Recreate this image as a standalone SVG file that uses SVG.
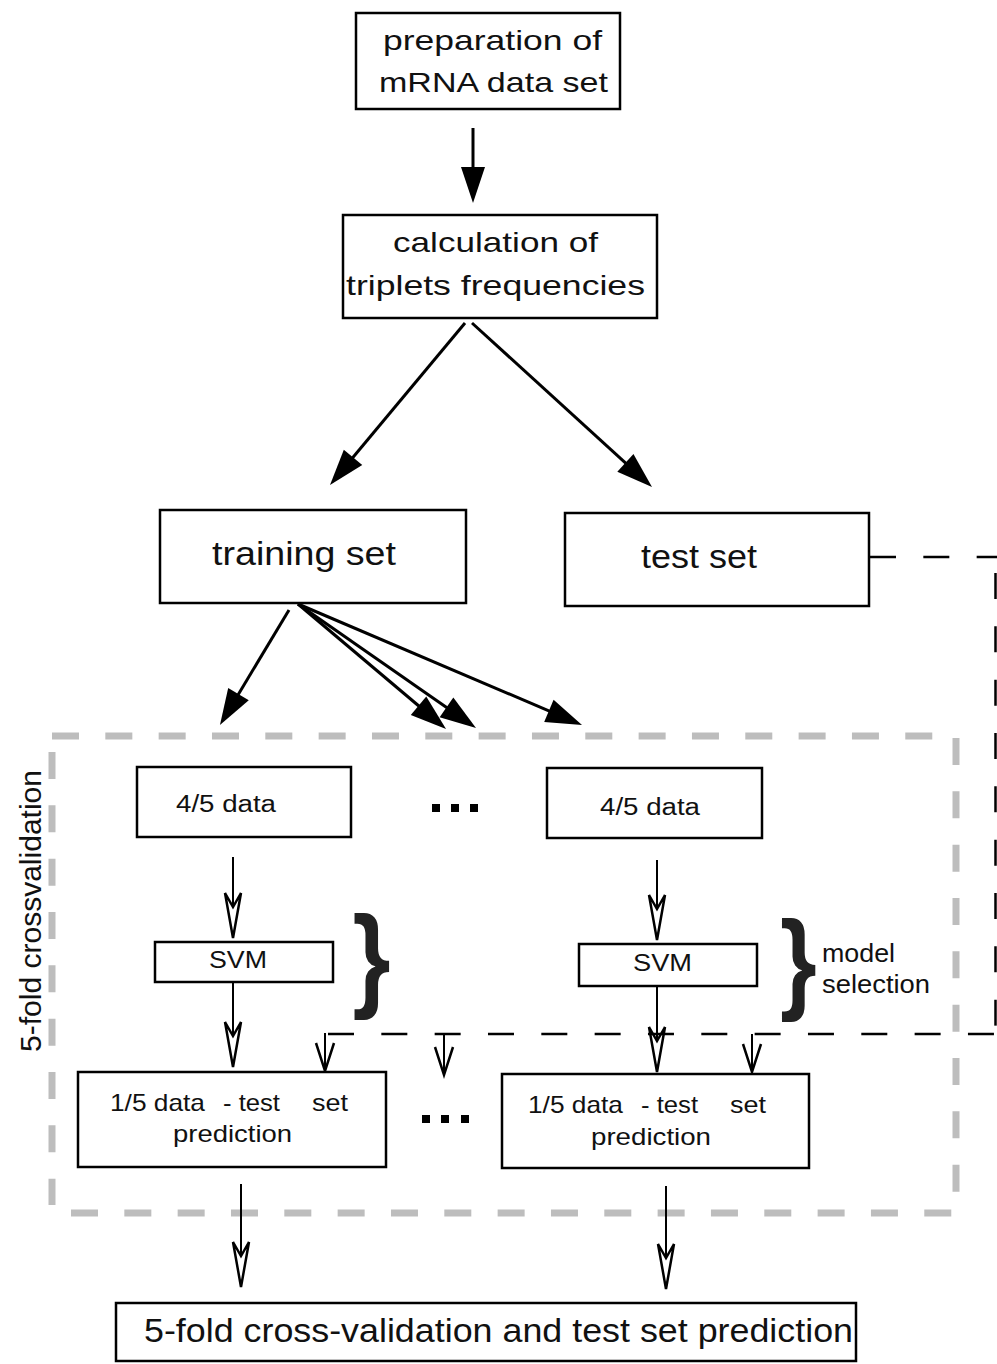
<svg xmlns="http://www.w3.org/2000/svg" width="997" height="1364" viewBox="0 0 997 1364">
<style>
.box{fill:#fff;stroke:#000;stroke-width:2.5}
.t{font-family:"Liberation Sans",Arial,sans-serif;fill:#111}
.ln{stroke:#000;stroke-width:3;fill:none}
.thin{stroke:#000;stroke-width:2;fill:none}
.gray{stroke:#bdbdbd;stroke-width:7;fill:none;stroke-dasharray:27 26.33}
.bd{stroke:#000;stroke-width:2.5;fill:none;stroke-dasharray:26 27.33}
.brace{font-family:"Liberation Sans",Arial,sans-serif;font-weight:bold;fill:#222}
</style>
<defs>
<marker id="fa" markerUnits="userSpaceOnUse" markerWidth="60" markerHeight="40" viewBox="-40 -20 60 40" refX="-10" refY="0" orient="auto" overflow="visible">
<path d="M0,0 L-36,-12 L-36,12 Z" fill="#000"/>
</marker>
<marker id="oa" markerUnits="userSpaceOnUse" markerWidth="60" markerHeight="30" viewBox="-50 -15 60 30" refX="-31" refY="0" orient="auto" overflow="visible">
<path d="M0,0 L-45,-8 L-31,0 L-45,8 Z" fill="#fff" stroke="#000" stroke-width="2.5" stroke-linejoin="miter"/>
</marker>
<marker id="va" markerUnits="userSpaceOnUse" markerWidth="40" markerHeight="30" viewBox="-30 -15 40 30" refX="0" refY="0" orient="auto" overflow="visible">
<path d="M-28,-9 L0,0 L-28,9" fill="none" stroke="#000" stroke-width="2.5"/>
</marker>
</defs>

<g id="crossval-frame">
<line class="gray" x1="52" y1="736" x2="956" y2="736"/>
<line class="gray" x1="52" y1="752" x2="52" y2="1205"/>
<line class="gray" x1="956" y1="738" x2="956" y2="1200"/>
<line class="gray" x1="71" y1="1213" x2="956" y2="1213"/>
<text class="t" font-size="30" text-anchor="middle" transform="translate(41,911) rotate(-90)" textLength="282" lengthAdjust="spacingAndGlyphs">5-fold crossvalidation</text>
</g>

<g id="connectors">
<line class="ln" x1="473" y1="128" x2="473" y2="193" marker-end="url(#fa)"/>
<line class="ln" x1="465" y1="323" x2="336.4" y2="477.3" marker-end="url(#fa)"/>
<line class="ln" x1="472" y1="323" x2="644.6" y2="480.3" marker-end="url(#fa)"/>
<line class="ln" x1="289" y1="610" x2="225.1" y2="716.4" marker-end="url(#fa)"/>
<line class="ln" x1="298" y1="604" x2="438.4" y2="722.5" marker-end="url(#fa)"/>
<line class="ln" x1="298" y1="604" x2="467.8" y2="722.3" marker-end="url(#fa)"/>
<line class="ln" x1="298" y1="604" x2="572.8" y2="721.1" marker-end="url(#fa)"/>

<line class="thin" x1="233" y1="857" x2="233" y2="907" marker-end="url(#oa)"/>
<line class="thin" x1="657" y1="860" x2="657" y2="909" marker-end="url(#oa)"/>
<line class="thin" x1="233" y1="982" x2="233" y2="1036" marker-end="url(#oa)"/>
<line class="thin" x1="657" y1="986" x2="657" y2="1041" marker-end="url(#oa)"/>
<line class="thin" x1="241" y1="1184" x2="241" y2="1256" marker-end="url(#oa)"/>
<line class="thin" x1="666" y1="1186" x2="666" y2="1258" marker-end="url(#oa)"/>

<line class="bd" x1="870" y1="557" x2="997" y2="557"/>
<line class="bd" x1="995.5" y1="573" x2="995.5" y2="1034" stroke-width="3"/>
<line class="bd" x1="328" y1="1034" x2="997" y2="1034"/>
<line class="thin" x1="325" y1="1033" x2="325" y2="1071" marker-end="url(#va)"/>
<line class="thin" x1="444" y1="1034" x2="444" y2="1075" marker-end="url(#va)"/>
<line class="thin" x1="752" y1="1034" x2="752" y2="1072" marker-end="url(#va)"/>
</g>

<g id="n-prep">
<rect class="box" x="356" y="13" width="264" height="96"/>
<text class="t" font-size="28" x="383" y="50" textLength="219" lengthAdjust="spacingAndGlyphs">preparation of</text>
<text class="t" font-size="28" x="379" y="92" textLength="229" lengthAdjust="spacingAndGlyphs">mRNA data set</text>
</g>
<g id="n-calc">
<rect class="box" x="343" y="215" width="314" height="103"/>
<text class="t" font-size="28" x="393" y="252" textLength="205" lengthAdjust="spacingAndGlyphs">calculation of</text>
<text class="t" font-size="28" x="346" y="295" textLength="299" lengthAdjust="spacingAndGlyphs">triplets frequencies</text>
</g>
<g id="n-train">
<rect class="box" x="160" y="510" width="306" height="93"/>
<text class="t" font-size="33" x="212" y="565" textLength="184" lengthAdjust="spacingAndGlyphs">training set</text>
</g>
<g id="n-test">
<rect class="box" x="565" y="513" width="304" height="93"/>
<text class="t" font-size="33" x="641" y="568" textLength="116" lengthAdjust="spacingAndGlyphs">test set</text>
</g>
<g id="n-data45-a">
<rect class="box" x="137" y="767" width="214" height="70"/>
<text class="t" font-size="23" x="176" y="812" textLength="100" lengthAdjust="spacingAndGlyphs">4/5 data</text>
</g>
<g id="n-data45-b">
<rect class="box" x="547" y="768" width="215" height="70"/>
<text class="t" font-size="23" x="600" y="815" textLength="100" lengthAdjust="spacingAndGlyphs">4/5 data</text>
</g>
<g id="dots-top">
<rect x="432" y="804" width="8" height="8"/>
<rect x="451" y="804" width="8" height="8"/>
<rect x="470" y="804" width="8" height="8"/>
</g>
<g id="n-svm-a">
<rect class="box" x="155" y="942" width="178" height="40"/>
<text class="t" font-size="23" x="209" y="968" textLength="58" lengthAdjust="spacingAndGlyphs">SVM</text>
</g>
<g id="n-svm-b">
<rect class="box" x="579" y="944" width="178" height="42"/>
<text class="t" font-size="23" x="633" y="971" textLength="59" lengthAdjust="spacingAndGlyphs">SVM</text>
</g>
<g id="brace-a">
<text class="brace" font-size="115" transform="translate(352.5,996) scale(0.85,1)">}</text>
</g>
<g id="brace-b">
<text class="brace" font-size="111" transform="translate(780,999) scale(0.85,1)">}</text>
<text class="t" font-size="25" x="822" y="962" textLength="73" lengthAdjust="spacingAndGlyphs">model</text>
<text class="t" font-size="25" x="822" y="993" textLength="108" lengthAdjust="spacingAndGlyphs">selection</text>
</g>
<g id="n-pred-a">
<rect class="box" x="78" y="1072" width="308" height="95"/>
<text class="t" font-size="24" x="110" y="1111" textLength="95" lengthAdjust="spacingAndGlyphs">1/5 data</text>
<text class="t" font-size="24" x="223" y="1111" textLength="57" lengthAdjust="spacingAndGlyphs">- test</text>
<text class="t" font-size="24" x="312" y="1111" textLength="36" lengthAdjust="spacingAndGlyphs">set</text>
<text class="t" font-size="24" x="173" y="1142" textLength="119" lengthAdjust="spacingAndGlyphs">prediction</text>
</g>
<g id="dots-bottom">
<rect x="422" y="1115" width="8" height="8"/>
<rect x="441" y="1115" width="8" height="8"/>
<rect x="461" y="1115" width="8" height="8"/>
</g>
<g id="n-pred-b">
<rect class="box" x="502" y="1074" width="307" height="94"/>
<text class="t" font-size="24" x="528" y="1113" textLength="95" lengthAdjust="spacingAndGlyphs">1/5 data</text>
<text class="t" font-size="24" x="641" y="1113" textLength="57" lengthAdjust="spacingAndGlyphs">- test</text>
<text class="t" font-size="24" x="730" y="1113" textLength="36" lengthAdjust="spacingAndGlyphs">set</text>
<text class="t" font-size="24" x="591" y="1145" textLength="120" lengthAdjust="spacingAndGlyphs">prediction</text>
</g>
<g id="n-final">
<rect class="box" x="116" y="1303" width="740" height="58"/>
<text class="t" font-size="33" x="144" y="1342" textLength="709" lengthAdjust="spacingAndGlyphs">5-fold cross-validation and test set prediction</text>
</g>
</svg>
